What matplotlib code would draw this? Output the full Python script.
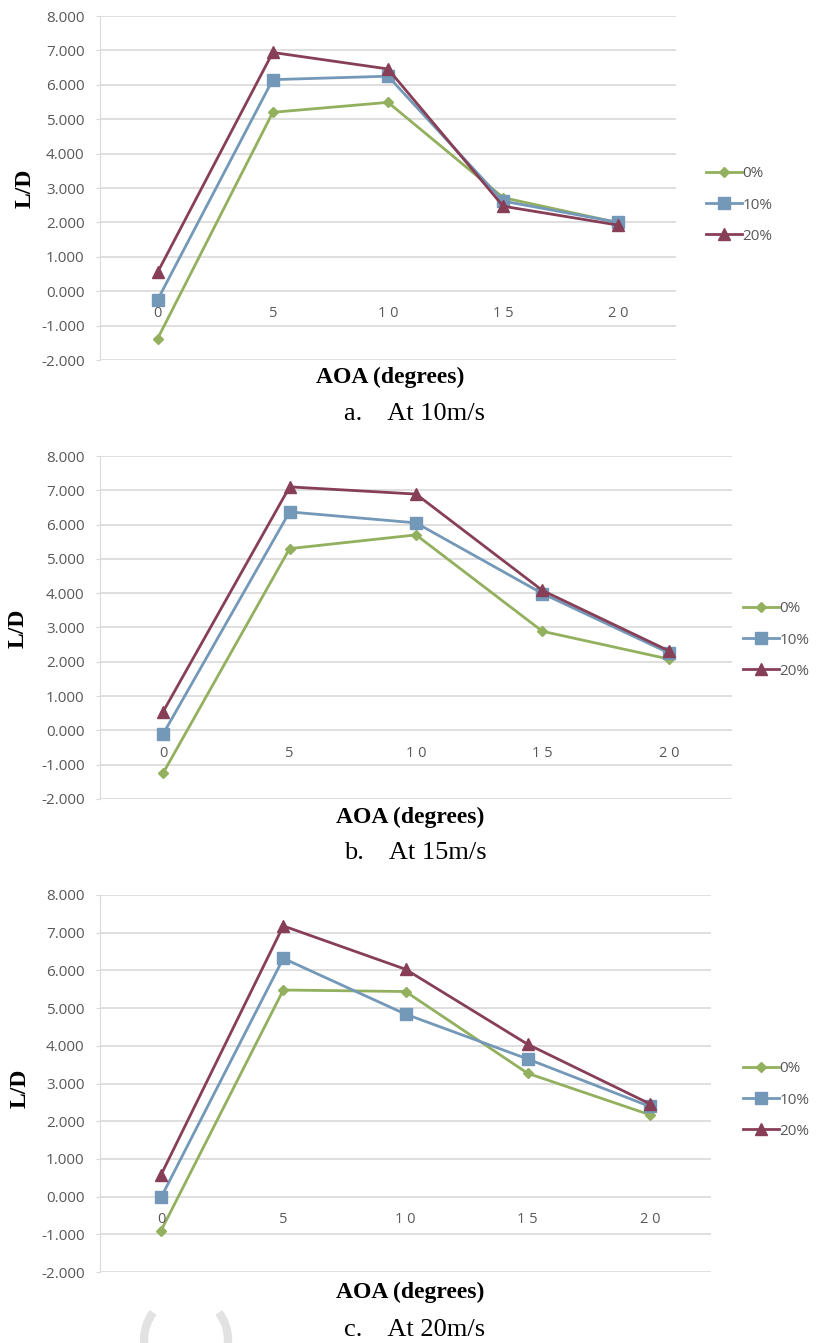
import matplotlib
matplotlib.use("Agg")
import matplotlib.pyplot as plt
from matplotlib.patches import Arc

# AOA categories and L/D values
aoa = [0, 5, 10, 15, 20]
series_names = ["0%", "10%", "20%"]

ld_10ms_0 = [-1.38, 5.20, 5.49, 2.72, 1.99]
ld_10ms_10 = [-0.25, 6.15, 6.25, 2.62, 2.00]
ld_10ms_20 = [0.55, 6.94, 6.46, 2.47, 1.92]

ld_15ms_0 = [-1.24, 5.30, 5.70, 2.89, 2.08]
ld_15ms_10 = [-0.10, 6.37, 6.05, 3.99, 2.26]
ld_15ms_20 = [0.55, 7.10, 6.89, 4.08, 2.32]

ld_20ms_0 = [-0.90, 5.48, 5.44, 3.27, 2.17]
ld_20ms_10 = [-0.02, 6.32, 4.84, 3.65, 2.39]
ld_20ms_20 = [0.58, 7.18, 6.03, 4.04, 2.46]

captions = ["a.    At 10m/s", "b.    At 15m/s", "c.    At 20m/s"]

colors = ["#92B05E", "#7398B8", "#873E57"]
markers = ["D", "s", "^"]
msizes = [5, 8, 8]

W, H = 819, 1343
fig = plt.figure(figsize=(W / 100, H / 100), dpi=100)
plt.rcParams["font.family"] = ["Open Sans", "DejaVu Sans"]


def px_axes(left, top, right, bottom):
    return fig.add_axes([left / W, 1 - bottom / H, (right - left) / W, (bottom - top) / H])


# pixel boxes: plot area, legend anchor, y label, x label, caption
panels = [
    dict(box=(100, 16, 676, 360), data=[ld_10ms_0, ld_10ms_10, ld_10ms_20],
         leg=(692, 205), ylab=(25, 188), xlab=(390, 377), cap=(415, 414)),
    dict(box=(100, 456, 732, 799), data=[ld_15ms_0, ld_15ms_10, ld_15ms_20],
         leg=(729, 640), ylab=(18, 628), xlab=(410, 817), cap=(415, 853)),
    dict(box=(100, 895, 711, 1272), data=[ld_20ms_0, ld_20ms_10, ld_20ms_20],
         leg=(729, 1100), ylab=(20, 1088), xlab=(410, 1292), cap=(415, 1330)),
]

grey = "#595959"
for p, cap in zip(panels, captions):
    ax = px_axes(*p["box"])
    idx = range(len(aoa))
    for vals, name, c, m, ms in zip(p["data"], series_names, colors, markers, msizes):
        ax.plot(idx, vals, color=c, marker=m, markersize=ms, linewidth=2,
                label=name, markeredgecolor=c)
    ax.set_xlim(-0.5, len(aoa) - 0.5)
    ax.set_ylim(-2, 8)
    ax.set_yticks(range(-2, 9))
    ax.set_yticklabels(["%.3f" % v for v in range(-2, 9)], color=grey, fontsize=11)
    ax.yaxis.grid(True, color="#d9d9d9", linewidth=1.2)
    ax.set_axisbelow(True)
    ax.tick_params(axis="y", length=3, color="#d9d9d9", pad=8)
    for s in ["top", "right"]:
        ax.spines[s].set_visible(False)
    ax.spines["left"].set_color("#d9d9d9")
    ax.spines["bottom"].set_position(("data", 0))
    ax.spines["bottom"].set_visible(False)
    ax.set_xticks(list(idx))
    ax.set_xticklabels([" ".join(str(a)) for a in aoa], color=grey, fontsize=10.5)
    ax.tick_params(axis="x", length=0, pad=11)
    ax.xaxis.set_zorder(3)

    lx, ly = p["leg"]
    ax.legend(loc="center left", bbox_to_anchor=(lx / W, 1 - ly / H),
              bbox_transform=fig.transFigure, frameon=False, fontsize=11,
              handlelength=2.35, handletextpad=0.05, labelspacing=1.05,
              labelcolor=grey)

    x, y = p["ylab"]
    fig.text(x / W, 1 - y / H, "L/D", rotation=90, ha="center", va="center",
             fontsize=17, fontweight="bold", family="Liberation Serif")
    x, y = p["xlab"]
    fig.text(x / W, 1 - y / H, "AOA (degrees)", ha="center", va="center",
             fontsize=17, fontweight="bold", family="Liberation Serif")
    x, y = p["cap"]
    fig.text(x / W, 1 - y / H, cap, ha="center", va="center",
             fontsize=19, family="Liberation Serif")

# faint watermark "( )" at the bottom edge (inch coordinates keep angles true)
for t1, t2 in [(140, 220), (-40, 40)]:
    fig.add_artist(Arc((1.86, (H - 1340) / 100), 0.84, 0.88, theta1=t1, theta2=t2,
                       transform=fig.dpi_scale_trans, color="#e2e2e2", linewidth=6))

fig.savefig("out.png", dpi=100)
